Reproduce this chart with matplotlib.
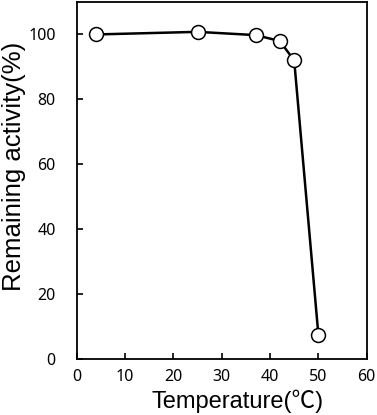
import matplotlib
matplotlib.use("Agg")
import matplotlib.pyplot as plt

temperature = [4, 25, 37, 42, 45, 50]
activity = [100, 100.8, 99.8, 98, 92, 7.5]
xticks = [0, 10, 20, 30, 40, 50, 60]
yticks = [0, 20, 40, 60, 80, 100]

fig = plt.figure(figsize=(3.77, 4.15), dpi=100)
ax = fig.add_axes([76.7/377, 1-359/415, (366.7-76.7)/377, (359-2)/415])
ax.plot(temperature, activity, color='black', lw=1.8, marker='o', ms=10,
        mfc='white', mec='black', mew=1.1, zorder=3)
ax.set_xlim(0, 60)
ax.set_ylim(0, 110)
ax.set_xticks(xticks)
ax.set_yticks(yticks)
ax.tick_params(direction='in', length=4, width=1.2, labelsize=11.5)
ax.tick_params(axis='y', pad=15)
ax.tick_params(axis='x', pad=7)
for lab in ax.get_xticklabels() + ax.get_yticklabels():
    lab.set_family(['Noto Sans', 'DejaVu Sans'])
    lab.set_fontweight('semibold')
for s in ax.spines.values():
    s.set_linewidth(1.3)
ax.set_xlabel('Temperature(℃)', fontsize=17, family=['Liberation Sans', 'Noto Sans CJK JP'])
ax.set_ylabel('Remaining activity(%)', fontsize=18.5, family=['Liberation Sans', 'Noto Sans CJK JP'])
ax.xaxis.set_label_coords(0.554, -0.085)
ax.yaxis.set_label_coords(-0.175, 0.54)
fig.savefig('out.png', dpi=100)
